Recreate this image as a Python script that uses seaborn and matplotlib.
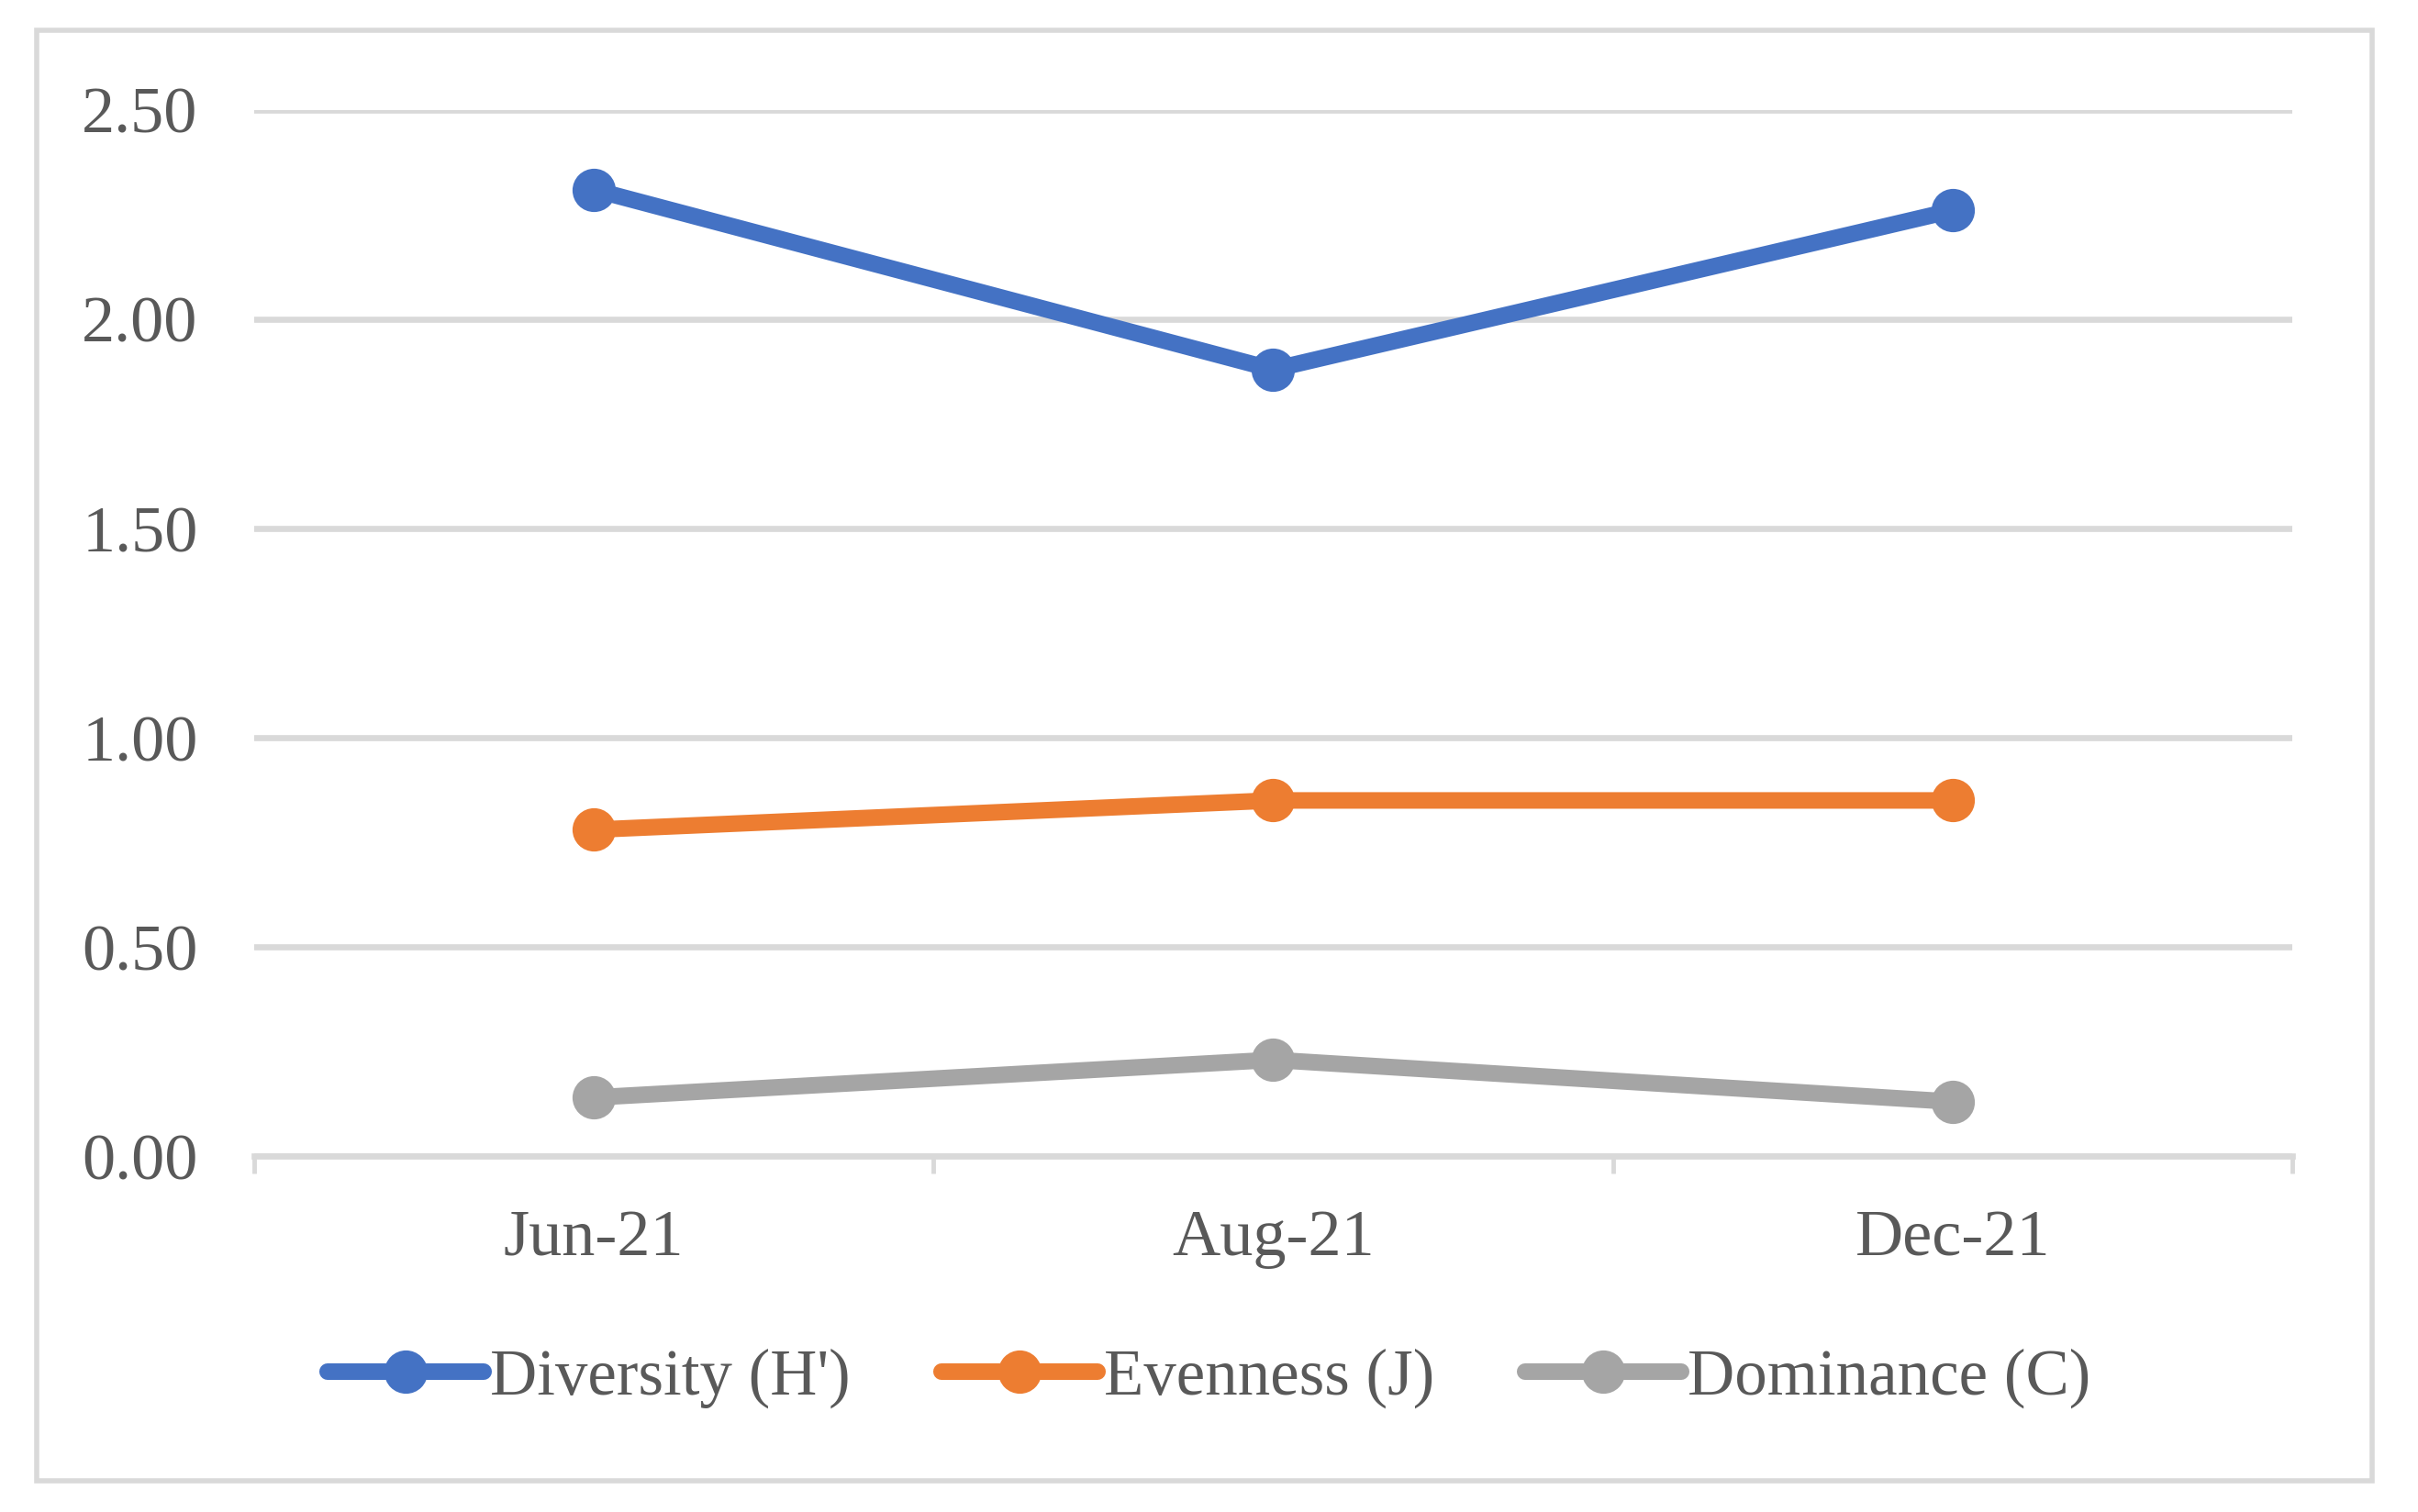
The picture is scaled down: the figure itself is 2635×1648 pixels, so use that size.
import pandas as pd
import matplotlib.pyplot as plt
import matplotlib.ticker as mticker
from matplotlib.patches import Rectangle
import seaborn as sns

# data
months = ["Jun-21", "Aug-21", "Dec-21"]
diversity = [2.31, 1.88, 2.26]
evenness = [0.78, 0.85, 0.85]
dominance = [0.14, 0.23, 0.13]
series_names = ["Diversity (H')", "Evenness (J)", "Dominance (C)"]
colors = ["#4472C4", "#ED7D31", "#A5A5A5"]

df = pd.DataFrame({
    "month": months * 3,
    "value": diversity + evenness + dominance,
    "index": [n for n in series_names for _ in months],
})

sns.set_theme(style="white")
plt.rcParams["font.family"] = ["Liberation Serif", "DejaVu Serif"]

grid_col = "#D9D9D9"
text_col = "#595959"

fig = plt.figure(figsize=(26.35, 16.48), dpi=100)
ax = fig.add_axes([0.105, 0.2354, 0.843, 0.6918])

sns.lineplot(data=df, x="month", y="value", hue="index", hue_order=series_names,
             palette=colors, sort=False, marker="o", markersize=34,
             markeredgewidth=0, linewidth=13, ax=ax, legend=True)

ax.set_xlim(-0.5, 2.5)
ax.set_ylim(0, 2.5)
ax.set_xlabel("")
ax.set_ylabel("")

# y axis: gridlines, labels only
ax.yaxis.set_major_locator(mticker.MultipleLocator(0.5))
ax.yaxis.set_major_formatter(mticker.FormatStrFormatter("%.2f"))
ax.grid(axis="y", color=grid_col, linewidth=4.8)
ax.set_axisbelow(True)
ax.tick_params(axis="y", length=0, pad=44, labelsize=52, labelcolor=text_col)

# x axis: ticks between categories, labels at categories
ax.xaxis.set_major_locator(mticker.FixedLocator([-0.5, 0.5, 1.5, 2.5]))
ax.xaxis.set_major_formatter(mticker.NullFormatter())
ax.xaxis.set_minor_locator(mticker.FixedLocator([0, 1, 2]))
ax.xaxis.set_minor_formatter(mticker.FixedFormatter(months))
ax.tick_params(axis="x", which="major", length=14, width=3.5, color=grid_col,
               direction="out", bottom=True)
ax.tick_params(axis="x", which="minor", length=0, pad=42, labelsize=52,
               labelcolor=text_col, bottom=True)

for side in ["top", "right", "left"]:
    ax.spines[side].set_visible(False)
ax.spines["bottom"].set_color(grid_col)
ax.spines["bottom"].set_linewidth(4.8)

# legend below the plot
handles, labels = ax.get_legend_handles_labels()
ax.get_legend().remove()
fig.legend(handles, labels, loc="center", bbox_to_anchor=(0.5, 0.0886), ncol=3,
           frameon=False, fontsize=51, labelcolor=text_col, handlelength=2.4,
           handletextpad=0.1, columnspacing=1.4)

# outer chart border
fig.patches.append(Rectangle((40 / 2635, 1 - 1614 / 1648), 2545 / 2635, 1581 / 1648,
                             transform=fig.transFigure, fill=False,
                             edgecolor=grid_col, linewidth=4))

fig.savefig("out.png", dpi=100, facecolor="white")
